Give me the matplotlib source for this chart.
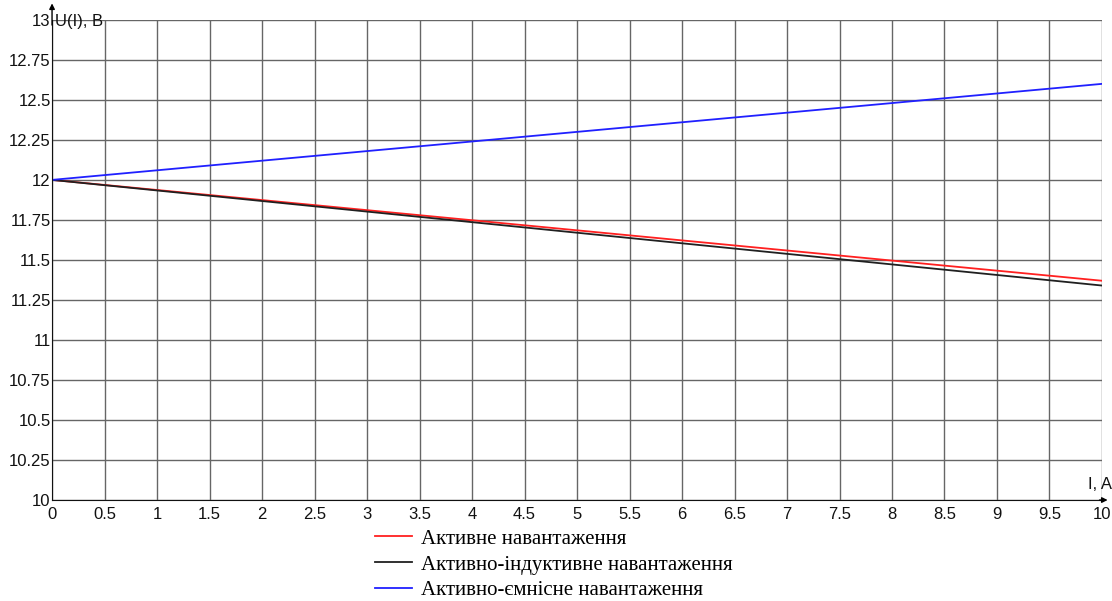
import matplotlib
matplotlib.use("Agg")
import matplotlib.pyplot as plt

current = [0, 1, 2, 3, 4, 5, 6, 7, 8, 9, 10]
u_active = [12.0, 11.937, 11.874, 11.811, 11.748, 11.685, 11.622, 11.559, 11.496, 11.433, 11.37]
u_inductive = [12.0, 11.934, 11.868, 11.802, 11.736, 11.67, 11.604, 11.538, 11.472, 11.406, 11.34]
u_capacitive = [12.0, 12.06, 12.12, 12.18, 12.24, 12.3, 12.36, 12.42, 12.48, 12.54, 12.6]

xticks = [i * 0.5 for i in range(21)]
xtick_labels = ["0", "0.5", "1", "1.5", "2", "2.5", "3", "3.5", "4", "4.5", "5",
                "5.5", "6", "6.5", "7", "7.5", "8", "8.5", "9", "9.5", "10"]
yticks = [10 + i * 0.25 for i in range(13)]
ytick_labels = ["10", "10.25", "10.5", "10.75", "11", "11.25", "11.5", "11.75",
                "12", "12.25", "12.5", "12.75", "13"]

plt.rcParams['font.family'] = ['Liberation Sans', 'DejaVu Sans']

fig = plt.figure(figsize=(11.12, 6.01), dpi=100)
ax = fig.add_axes([0.0468, 0.168, 0.9442, 0.799])

ax.plot(current, u_active, color="#ff2020", lw=1.3, label="Активне навантаження")
ax.plot(current, u_inductive, color="#202020", lw=1.3, label="Активно-індуктивне навантаження")
ax.plot(current, u_capacitive, color="#2020ff", lw=1.3, label="Активно-ємнісне навантаження")

ax.set_xlim(0, 10)
ax.set_ylim(10, 13)
ax.set_xticks(xticks)
ax.set_xticklabels(xtick_labels)
ax.set_yticks(yticks)
ax.set_yticklabels(ytick_labels)
ax.tick_params(axis="both", labelsize=12, length=0, colors="#111111")
ax.tick_params(axis="x", pad=5)
ax.tick_params(axis="y", pad=1)
ax.grid(True, color="#666666", linewidth=1)
ax.set_axisbelow(True)

for s in ["top", "right"]:
    ax.spines[s].set_visible(False)
ax.spines["left"].set_color("#111111")
ax.spines["bottom"].set_color("#111111")

# arrows on the axes
ax.annotate("", xy=(0, 13.12), xytext=(0, 12.95), xycoords="data",
            arrowprops=dict(arrowstyle="-|>", color="black", lw=1, mutation_scale=8),
            annotation_clip=False)
ax.annotate("", xy=(10.08, 10), xytext=(9.95, 10), xycoords="data",
            arrowprops=dict(arrowstyle="-|>", color="black", lw=1, mutation_scale=8),
            annotation_clip=False)

ax.text(0.03, 12.99, "U(I), B", fontsize=12, va="center", ha="left", color="#111111")
ax.text(9.98, 10.05, "I, A", fontsize=12, va="bottom", ha="center", color="#111111")

leg = fig.legend(loc="upper left", bbox_to_anchor=(0.332, 0.13), frameon=False,
                 prop={"family": "Liberation Serif", "size": 15},
                 handlelength=1.75, handletextpad=0.45, labelspacing=0.3,
                 borderaxespad=0, borderpad=0.3)

fig.savefig("out.png", dpi=100)
